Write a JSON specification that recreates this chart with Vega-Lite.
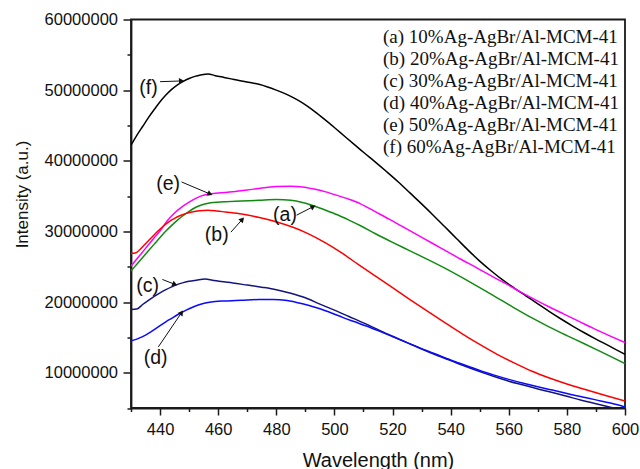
{
  "$schema": "https://vega.github.io/schema/vega-lite/v6.json",
  "width": 494,
  "height": 388.5,
  "autosize": {"type": "none"},
  "padding": {"left": 131, "top": 19.5, "right": 15, "bottom": 61},
  "background": "white",
  "config": {
    "view": {"stroke": "#1a1a1a", "strokeWidth": 1.8},
    "axis": {
      "grid": false,
      "domainColor": "#1a1a1a",
      "domainWidth": 1.8,
      "tickColor": "#1a1a1a",
      "tickWidth": 1.5,
      "labelFont": "Liberation Sans",
      "labelFontSize": 16.5,
      "labelColor": "#111111",
      "titleFont": "Liberation Sans",
      "titleFontWeight": "normal",
      "titleColor": "#111111"
    },
    "legend": {
      "orient": "none",
      "legendX": 233,
      "legendY": 8,
      "padding": 0,
      "labelFont": "Liberation Serif",
      "labelFontSize": 19,
      "labelColor": "#111111",
      "labelLimit": 500,
      "labelOffset": 0,
      "symbolSize": 0,
      "symbolStrokeWidth": 0,
      "symbolOpacity": 0,
      "rowPadding": 2
    }
  },
  "datasets": {
    "samples": [
      {"key": "a", "name": "(a) 10%Ag-AgBr/Al-MCM-41"},
      {"key": "b", "name": "(b) 20%Ag-AgBr/Al-MCM-41"},
      {"key": "c", "name": "(c) 30%Ag-AgBr/Al-MCM-41"},
      {"key": "d", "name": "(d) 40%Ag-AgBr/Al-MCM-41"},
      {"key": "e", "name": "(e) 50%Ag-AgBr/Al-MCM-41"},
      {"key": "f", "name": "(f) 60%Ag-AgBr/Al-MCM-41"}
    ],
    "callouts": [
      {"tag": "(a)", "nm": 483.0, "intensity": 32300000, "from_nm": 487.0, "from_int": 32300000, "to_nm": 492.7, "to_int": 33500000},
      {"tag": "(b)", "nm": 459.5, "intensity": 29500000, "from_nm": 464.4, "from_int": 29900000, "to_nm": 468.3, "to_int": 31700000},
      {"tag": "(c)", "nm": 435.7, "intensity": 22300000, "from_nm": 440.8, "from_int": 23200000, "to_nm": 445.1, "to_int": 22500000},
      {"tag": "(d)", "nm": 438.5, "intensity": 12100000, "from_nm": 439.4, "from_int": 13650000, "to_nm": 447.4, "to_int": 18500000},
      {"tag": "(e)", "nm": 442.8, "intensity": 36700000, "from_nm": 447.4, "from_int": 37000000, "to_nm": 457.2, "to_int": 35300000},
      {"tag": "(f)", "nm": 436.0, "intensity": 50300000, "from_nm": 440.0, "from_int": 51200000, "to_nm": 447.4, "to_int": 51300000}
    ],
    "spectra": [
      {"sample": "f", "nm": 430, "intensity": 42200000},
      {"sample": "f", "nm": 432, "intensity": 43600000},
      {"sample": "f", "nm": 434, "intensity": 44850000},
      {"sample": "f", "nm": 436, "intensity": 46100000},
      {"sample": "f", "nm": 438, "intensity": 47250000},
      {"sample": "f", "nm": 440, "intensity": 48350000},
      {"sample": "f", "nm": 442, "intensity": 49300000},
      {"sample": "f", "nm": 444, "intensity": 50100000},
      {"sample": "f", "nm": 446, "intensity": 50750000},
      {"sample": "f", "nm": 448, "intensity": 51250000},
      {"sample": "f", "nm": 450, "intensity": 51650000},
      {"sample": "f", "nm": 452, "intensity": 51950000},
      {"sample": "f", "nm": 454, "intensity": 52150000},
      {"sample": "f", "nm": 456.5, "intensity": 52300000},
      {"sample": "f", "nm": 459, "intensity": 52050000},
      {"sample": "f", "nm": 462, "intensity": 51800000},
      {"sample": "f", "nm": 465, "intensity": 51550000},
      {"sample": "f", "nm": 468, "intensity": 51300000},
      {"sample": "f", "nm": 471, "intensity": 51080000},
      {"sample": "f", "nm": 474, "intensity": 50820000},
      {"sample": "f", "nm": 477, "intensity": 50450000},
      {"sample": "f", "nm": 480, "intensity": 50000000},
      {"sample": "f", "nm": 483, "intensity": 49500000},
      {"sample": "f", "nm": 486, "intensity": 48900000},
      {"sample": "f", "nm": 489, "intensity": 48200000},
      {"sample": "f", "nm": 492, "intensity": 47350000},
      {"sample": "f", "nm": 495, "intensity": 46400000},
      {"sample": "f", "nm": 498, "intensity": 45400000},
      {"sample": "f", "nm": 501, "intensity": 44350000},
      {"sample": "f", "nm": 504, "intensity": 43300000},
      {"sample": "f", "nm": 507, "intensity": 42250000},
      {"sample": "f", "nm": 510, "intensity": 41200000},
      {"sample": "f", "nm": 514, "intensity": 39850000},
      {"sample": "f", "nm": 518, "intensity": 38450000},
      {"sample": "f", "nm": 522, "intensity": 37000000},
      {"sample": "f", "nm": 526, "intensity": 35450000},
      {"sample": "f", "nm": 530, "intensity": 33900000},
      {"sample": "f", "nm": 534, "intensity": 32300000},
      {"sample": "f", "nm": 538, "intensity": 30650000},
      {"sample": "f", "nm": 542, "intensity": 29000000},
      {"sample": "f", "nm": 546, "intensity": 27350000},
      {"sample": "f", "nm": 550, "intensity": 25800000},
      {"sample": "f", "nm": 554, "intensity": 24400000},
      {"sample": "f", "nm": 558, "intensity": 23100000},
      {"sample": "f", "nm": 562, "intensity": 21950000},
      {"sample": "f", "nm": 566, "intensity": 20850000},
      {"sample": "f", "nm": 570, "intensity": 19750000},
      {"sample": "f", "nm": 574, "intensity": 18650000},
      {"sample": "f", "nm": 578, "intensity": 17600000},
      {"sample": "f", "nm": 582, "intensity": 16600000},
      {"sample": "f", "nm": 586, "intensity": 15650000},
      {"sample": "f", "nm": 590, "intensity": 14750000},
      {"sample": "f", "nm": 595, "intensity": 13700000},
      {"sample": "f", "nm": 600, "intensity": 12600000},

      {"sample": "e", "nm": 430, "intensity": 25100000},
      {"sample": "e", "nm": 432, "intensity": 26100000},
      {"sample": "e", "nm": 434, "intensity": 27100000},
      {"sample": "e", "nm": 436, "intensity": 28100000},
      {"sample": "e", "nm": 438, "intensity": 29100000},
      {"sample": "e", "nm": 440, "intensity": 30100000},
      {"sample": "e", "nm": 442.5, "intensity": 31500000},
      {"sample": "e", "nm": 445, "intensity": 32600000},
      {"sample": "e", "nm": 448, "intensity": 33600000},
      {"sample": "e", "nm": 451, "intensity": 34400000},
      {"sample": "e", "nm": 454, "intensity": 35000000},
      {"sample": "e", "nm": 456.6, "intensity": 35300000},
      {"sample": "e", "nm": 460, "intensity": 35450000},
      {"sample": "e", "nm": 465, "intensity": 35600000},
      {"sample": "e", "nm": 470, "intensity": 35850000},
      {"sample": "e", "nm": 475, "intensity": 36150000},
      {"sample": "e", "nm": 480, "intensity": 36350000},
      {"sample": "e", "nm": 485, "intensity": 36400000},
      {"sample": "e", "nm": 489, "intensity": 36300000},
      {"sample": "e", "nm": 493, "intensity": 36000000},
      {"sample": "e", "nm": 497, "intensity": 35600000},
      {"sample": "e", "nm": 501, "intensity": 35100000},
      {"sample": "e", "nm": 505, "intensity": 34550000},
      {"sample": "e", "nm": 509, "intensity": 33900000},
      {"sample": "e", "nm": 514, "intensity": 32800000},
      {"sample": "e", "nm": 519, "intensity": 31700000},
      {"sample": "e", "nm": 524, "intensity": 30550000},
      {"sample": "e", "nm": 529, "intensity": 29400000},
      {"sample": "e", "nm": 534, "intensity": 28250000},
      {"sample": "e", "nm": 539, "intensity": 27100000},
      {"sample": "e", "nm": 544, "intensity": 25950000},
      {"sample": "e", "nm": 549, "intensity": 24850000},
      {"sample": "e", "nm": 554, "intensity": 23700000},
      {"sample": "e", "nm": 559, "intensity": 22600000},
      {"sample": "e", "nm": 564, "intensity": 21450000},
      {"sample": "e", "nm": 569, "intensity": 20350000},
      {"sample": "e", "nm": 574, "intensity": 19300000},
      {"sample": "e", "nm": 579, "intensity": 18300000},
      {"sample": "e", "nm": 584, "intensity": 17300000},
      {"sample": "e", "nm": 589, "intensity": 16300000},
      {"sample": "e", "nm": 594, "intensity": 15350000},
      {"sample": "e", "nm": 600, "intensity": 14250000},

      {"sample": "a", "nm": 430, "intensity": 24400000},
      {"sample": "a", "nm": 432, "intensity": 25350000},
      {"sample": "a", "nm": 434, "intensity": 26300000},
      {"sample": "a", "nm": 436, "intensity": 27250000},
      {"sample": "a", "nm": 438, "intensity": 28200000},
      {"sample": "a", "nm": 440, "intensity": 29150000},
      {"sample": "a", "nm": 442, "intensity": 30050000},
      {"sample": "a", "nm": 444, "intensity": 30850000},
      {"sample": "a", "nm": 446, "intensity": 31600000},
      {"sample": "a", "nm": 448, "intensity": 32250000},
      {"sample": "a", "nm": 450, "intensity": 32850000},
      {"sample": "a", "nm": 452, "intensity": 33350000},
      {"sample": "a", "nm": 454, "intensity": 33700000},
      {"sample": "a", "nm": 456.6, "intensity": 34000000},
      {"sample": "a", "nm": 462, "intensity": 34200000},
      {"sample": "a", "nm": 468, "intensity": 34300000},
      {"sample": "a", "nm": 474, "intensity": 34400000},
      {"sample": "a", "nm": 480, "intensity": 34500000},
      {"sample": "a", "nm": 485, "intensity": 34400000},
      {"sample": "a", "nm": 489, "intensity": 34100000},
      {"sample": "a", "nm": 493, "intensity": 33600000},
      {"sample": "a", "nm": 497, "intensity": 33000000},
      {"sample": "a", "nm": 501, "intensity": 32350000},
      {"sample": "a", "nm": 505, "intensity": 31600000},
      {"sample": "a", "nm": 509, "intensity": 30800000},
      {"sample": "a", "nm": 514, "intensity": 29700000},
      {"sample": "a", "nm": 520, "intensity": 28450000},
      {"sample": "a", "nm": 526, "intensity": 27250000},
      {"sample": "a", "nm": 532, "intensity": 26050000},
      {"sample": "a", "nm": 538, "intensity": 24800000},
      {"sample": "a", "nm": 544, "intensity": 23450000},
      {"sample": "a", "nm": 550, "intensity": 22050000},
      {"sample": "a", "nm": 556, "intensity": 20600000},
      {"sample": "a", "nm": 562, "intensity": 19150000},
      {"sample": "a", "nm": 568, "intensity": 17750000},
      {"sample": "a", "nm": 574, "intensity": 16450000},
      {"sample": "a", "nm": 580, "intensity": 15250000},
      {"sample": "a", "nm": 586, "intensity": 14100000},
      {"sample": "a", "nm": 592, "intensity": 12900000},
      {"sample": "a", "nm": 600, "intensity": 11300000},

      {"sample": "b", "nm": 430, "intensity": 26900000},
      {"sample": "b", "nm": 431.5, "intensity": 26950000},
      {"sample": "b", "nm": 433, "intensity": 27400000},
      {"sample": "b", "nm": 435, "intensity": 28250000},
      {"sample": "b", "nm": 437, "intensity": 29100000},
      {"sample": "b", "nm": 439, "intensity": 29950000},
      {"sample": "b", "nm": 441, "intensity": 30700000},
      {"sample": "b", "nm": 443, "intensity": 31350000},
      {"sample": "b", "nm": 445, "intensity": 31850000},
      {"sample": "b", "nm": 447, "intensity": 32250000},
      {"sample": "b", "nm": 449, "intensity": 32550000},
      {"sample": "b", "nm": 451, "intensity": 32750000},
      {"sample": "b", "nm": 453.5, "intensity": 32920000},
      {"sample": "b", "nm": 456.5, "intensity": 33000000},
      {"sample": "b", "nm": 459.5, "intensity": 32900000},
      {"sample": "b", "nm": 462.4, "intensity": 32750000},
      {"sample": "b", "nm": 468.1, "intensity": 32450000},
      {"sample": "b", "nm": 473.8, "intensity": 32000000},
      {"sample": "b", "nm": 479.6, "intensity": 31400000},
      {"sample": "b", "nm": 485.3, "intensity": 30650000},
      {"sample": "b", "nm": 491.1, "intensity": 29650000},
      {"sample": "b", "nm": 496.8, "intensity": 28400000},
      {"sample": "b", "nm": 502.5, "intensity": 26950000},
      {"sample": "b", "nm": 508.3, "intensity": 25300000},
      {"sample": "b", "nm": 514, "intensity": 23700000},
      {"sample": "b", "nm": 520, "intensity": 22050000},
      {"sample": "b", "nm": 526, "intensity": 20350000},
      {"sample": "b", "nm": 532, "intensity": 18700000},
      {"sample": "b", "nm": 538, "intensity": 17100000},
      {"sample": "b", "nm": 544, "intensity": 15500000},
      {"sample": "b", "nm": 550, "intensity": 14000000},
      {"sample": "b", "nm": 556, "intensity": 12600000},
      {"sample": "b", "nm": 562, "intensity": 11350000},
      {"sample": "b", "nm": 568, "intensity": 10200000},
      {"sample": "b", "nm": 574, "intensity": 9250000},
      {"sample": "b", "nm": 580, "intensity": 8400000},
      {"sample": "b", "nm": 586, "intensity": 7650000},
      {"sample": "b", "nm": 593, "intensity": 6800000},
      {"sample": "b", "nm": 600, "intensity": 6000000},

      {"sample": "c", "nm": 430, "intensity": 18950000},
      {"sample": "c", "nm": 432, "intensity": 19000000},
      {"sample": "c", "nm": 434, "intensity": 19650000},
      {"sample": "c", "nm": 436, "intensity": 20250000},
      {"sample": "c", "nm": 438, "intensity": 20800000},
      {"sample": "c", "nm": 440, "intensity": 21300000},
      {"sample": "c", "nm": 442, "intensity": 21750000},
      {"sample": "c", "nm": 444, "intensity": 22150000},
      {"sample": "c", "nm": 446, "intensity": 22500000},
      {"sample": "c", "nm": 448, "intensity": 22750000},
      {"sample": "c", "nm": 450, "intensity": 22950000},
      {"sample": "c", "nm": 452.5, "intensity": 23100000},
      {"sample": "c", "nm": 455.5, "intensity": 23250000},
      {"sample": "c", "nm": 458, "intensity": 23100000},
      {"sample": "c", "nm": 461, "intensity": 22900000},
      {"sample": "c", "nm": 465, "intensity": 22700000},
      {"sample": "c", "nm": 470, "intensity": 22400000},
      {"sample": "c", "nm": 475, "intensity": 22100000},
      {"sample": "c", "nm": 480, "intensity": 21750000},
      {"sample": "c", "nm": 485, "intensity": 21250000},
      {"sample": "c", "nm": 490, "intensity": 20600000},
      {"sample": "c", "nm": 495, "intensity": 19700000},
      {"sample": "c", "nm": 500, "intensity": 18850000},
      {"sample": "c", "nm": 505, "intensity": 17950000},
      {"sample": "c", "nm": 510, "intensity": 17050000},
      {"sample": "c", "nm": 515, "intensity": 16100000},
      {"sample": "c", "nm": 520, "intensity": 15150000},
      {"sample": "c", "nm": 525, "intensity": 14250000},
      {"sample": "c", "nm": 530, "intensity": 13350000},
      {"sample": "c", "nm": 535, "intensity": 12500000},
      {"sample": "c", "nm": 540, "intensity": 11700000},
      {"sample": "c", "nm": 545, "intensity": 10900000},
      {"sample": "c", "nm": 550, "intensity": 10150000},
      {"sample": "c", "nm": 555, "intensity": 9450000},
      {"sample": "c", "nm": 560, "intensity": 8800000},
      {"sample": "c", "nm": 565, "intensity": 8250000},
      {"sample": "c", "nm": 570, "intensity": 7700000},
      {"sample": "c", "nm": 575, "intensity": 7200000},
      {"sample": "c", "nm": 580, "intensity": 6650000},
      {"sample": "c", "nm": 585, "intensity": 6100000},
      {"sample": "c", "nm": 590, "intensity": 5600000},
      {"sample": "c", "nm": 595, "intensity": 5100000},
      {"sample": "c", "nm": 600, "intensity": 4600000},

      {"sample": "d", "nm": 430, "intensity": 14500000},
      {"sample": "d", "nm": 432, "intensity": 14750000},
      {"sample": "d", "nm": 434, "intensity": 15100000},
      {"sample": "d", "nm": 436, "intensity": 15550000},
      {"sample": "d", "nm": 438, "intensity": 16100000},
      {"sample": "d", "nm": 440, "intensity": 16650000},
      {"sample": "d", "nm": 442, "intensity": 17200000},
      {"sample": "d", "nm": 444, "intensity": 17700000},
      {"sample": "d", "nm": 446, "intensity": 18200000},
      {"sample": "d", "nm": 448, "intensity": 18650000},
      {"sample": "d", "nm": 450, "intensity": 19050000},
      {"sample": "d", "nm": 452, "intensity": 19400000},
      {"sample": "d", "nm": 454, "intensity": 19700000},
      {"sample": "d", "nm": 456.5, "intensity": 19950000},
      {"sample": "d", "nm": 459, "intensity": 20080000},
      {"sample": "d", "nm": 462, "intensity": 20150000},
      {"sample": "d", "nm": 468, "intensity": 20250000},
      {"sample": "d", "nm": 474, "intensity": 20350000},
      {"sample": "d", "nm": 479, "intensity": 20350000},
      {"sample": "d", "nm": 483, "intensity": 20250000},
      {"sample": "d", "nm": 487, "intensity": 19950000},
      {"sample": "d", "nm": 491, "intensity": 19550000},
      {"sample": "d", "nm": 495, "intensity": 19050000},
      {"sample": "d", "nm": 499, "intensity": 18450000},
      {"sample": "d", "nm": 503, "intensity": 17800000},
      {"sample": "d", "nm": 507, "intensity": 17200000},
      {"sample": "d", "nm": 511, "intensity": 16600000},
      {"sample": "d", "nm": 515, "intensity": 15950000},
      {"sample": "d", "nm": 520, "intensity": 15100000},
      {"sample": "d", "nm": 525, "intensity": 14250000},
      {"sample": "d", "nm": 530, "intensity": 13400000},
      {"sample": "d", "nm": 535, "intensity": 12600000},
      {"sample": "d", "nm": 540, "intensity": 11800000},
      {"sample": "d", "nm": 545, "intensity": 11050000},
      {"sample": "d", "nm": 550, "intensity": 10300000},
      {"sample": "d", "nm": 555, "intensity": 9650000},
      {"sample": "d", "nm": 560, "intensity": 9050000},
      {"sample": "d", "nm": 565, "intensity": 8500000},
      {"sample": "d", "nm": 570, "intensity": 8000000},
      {"sample": "d", "nm": 575, "intensity": 7550000},
      {"sample": "d", "nm": 580, "intensity": 7050000},
      {"sample": "d", "nm": 585, "intensity": 6600000},
      {"sample": "d", "nm": 590, "intensity": 6150000},
      {"sample": "d", "nm": 595, "intensity": 5700000},
      {"sample": "d", "nm": 600, "intensity": 5150000}
    ]
  },
  "layer": [
    {
      "data": {"name": "spectra"},
      "transform": [
        {"lookup": "sample", "from": {"data": {"name": "samples"}, "key": "key", "fields": ["name"]}}
      ],
      "mark": {"type": "line", "strokeWidth": 1.5, "interpolate": "monotone", "clip": true},
      "encoding": {
        "x": {
          "field": "nm", "type": "quantitative",
          "scale": {"domain": [430, 600], "nice": false, "zero": false},
          "axis": {
            "orient": "bottom",
            "values": [440, 460, 480, 500, 520, 540, 560, 580, 600],
            "tickSize": 7,
            "labelPadding": 19.5,
            "labelBaseline": "alphabetic",
            "labelFlush": false,
            "title": "Wavelength (nm)",
            "titleFontSize": 20,
            "titleBaseline": "alphabetic",
            "titleY": 58
          }
        },
        "y": {
          "field": "intensity", "type": "quantitative",
          "scale": {"domain": [5000000, 60000000], "nice": false, "zero": false},
          "axis": {
            "orient": "left",
            "values": [10000000, 20000000, 30000000, 40000000, 50000000, 60000000],
            "format": "d",
            "tickSize": 8,
            "labelPadding": 5.5,
            "labelFlush": false,
            "title": "Intensity (a.u.)",
            "titleFontSize": 17,
            "titleAngle": -90,
            "titleAlign": "center",
            "titleBaseline": "middle",
            "titleX": -109,
            "titleY": 174.5
          }
        },
        "color": {
          "field": "name", "type": "nominal",
          "scale": {
            "domain": [
              "(a) 10%Ag-AgBr/Al-MCM-41",
              "(b) 20%Ag-AgBr/Al-MCM-41",
              "(c) 30%Ag-AgBr/Al-MCM-41",
              "(d) 40%Ag-AgBr/Al-MCM-41",
              "(e) 50%Ag-AgBr/Al-MCM-41",
              "(f) 60%Ag-AgBr/Al-MCM-41"
            ],
            "range": ["#128a12", "#ff0000", "#14147f", "#0a0aff", "#ff00ff", "#000000"]
          },
          "legend": {"title": null}
        },
        "detail": {"field": "sample"}
      }
    },
    {
      "data": {"name": "callouts"},
      "mark": {"type": "rule", "color": "#111111", "strokeWidth": 1},
      "encoding": {
        "x": {
          "field": "from_nm", "type": "quantitative",
          "scale": {"domain": [430, 600], "nice": false, "zero": false},
          "axis": {
            "orient": "bottom",
            "values": [430, 450, 470, 490, 510, 530, 550, 570, 590],
            "tickSize": 3.5,
            "labels": false,
            "domain": false,
            "title": null
          }
        },
        "y": {
          "field": "from_int", "type": "quantitative",
          "scale": {"domain": [5000000, 60000000], "nice": false, "zero": false},
          "axis": {
            "orient": "left",
            "values": [5000000, 15000000, 25000000, 35000000, 45000000, 55000000],
            "tickSize": 4,
            "labels": false,
            "domain": false,
            "title": null
          }
        },
        "x2": {"field": "to_nm"},
        "y2": {"field": "to_int"}
      }
    },
    {
      "data": {"name": "callouts"},
      "transform": [
        {"calculate": "atan2(-(datum.to_int - datum.from_int) * 388.5 / 55000000, (datum.to_nm - datum.from_nm) * 494 / 170) * 180 / PI", "as": "heading"}
      ],
      "mark": {"type": "point", "shape": "triangle-right", "filled": true, "color": "#111111", "size": 36, "opacity": 1},
      "encoding": {
        "x": {"field": "to_nm", "type": "quantitative", "scale": {"domain": [430, 600], "nice": false, "zero": false}, "axis": null},
        "y": {"field": "to_int", "type": "quantitative", "scale": {"domain": [5000000, 60000000], "nice": false, "zero": false}, "axis": null},
        "angle": {"field": "heading", "type": "quantitative", "scale": null}
      }
    },
    {
      "data": {"name": "callouts"},
      "mark": {"type": "text", "font": "Liberation Sans", "fontSize": 19.5, "color": "#111111", "align": "center", "baseline": "middle"},
      "encoding": {
        "x": {"field": "nm", "type": "quantitative", "scale": {"domain": [430, 600], "nice": false, "zero": false}, "axis": null},
        "y": {"field": "intensity", "type": "quantitative", "scale": {"domain": [5000000, 60000000], "nice": false, "zero": false}, "axis": null},
        "text": {"field": "tag"}
      }
    }
  ],
  "resolve": {"axis": {"x": "independent", "y": "independent"}}
}
